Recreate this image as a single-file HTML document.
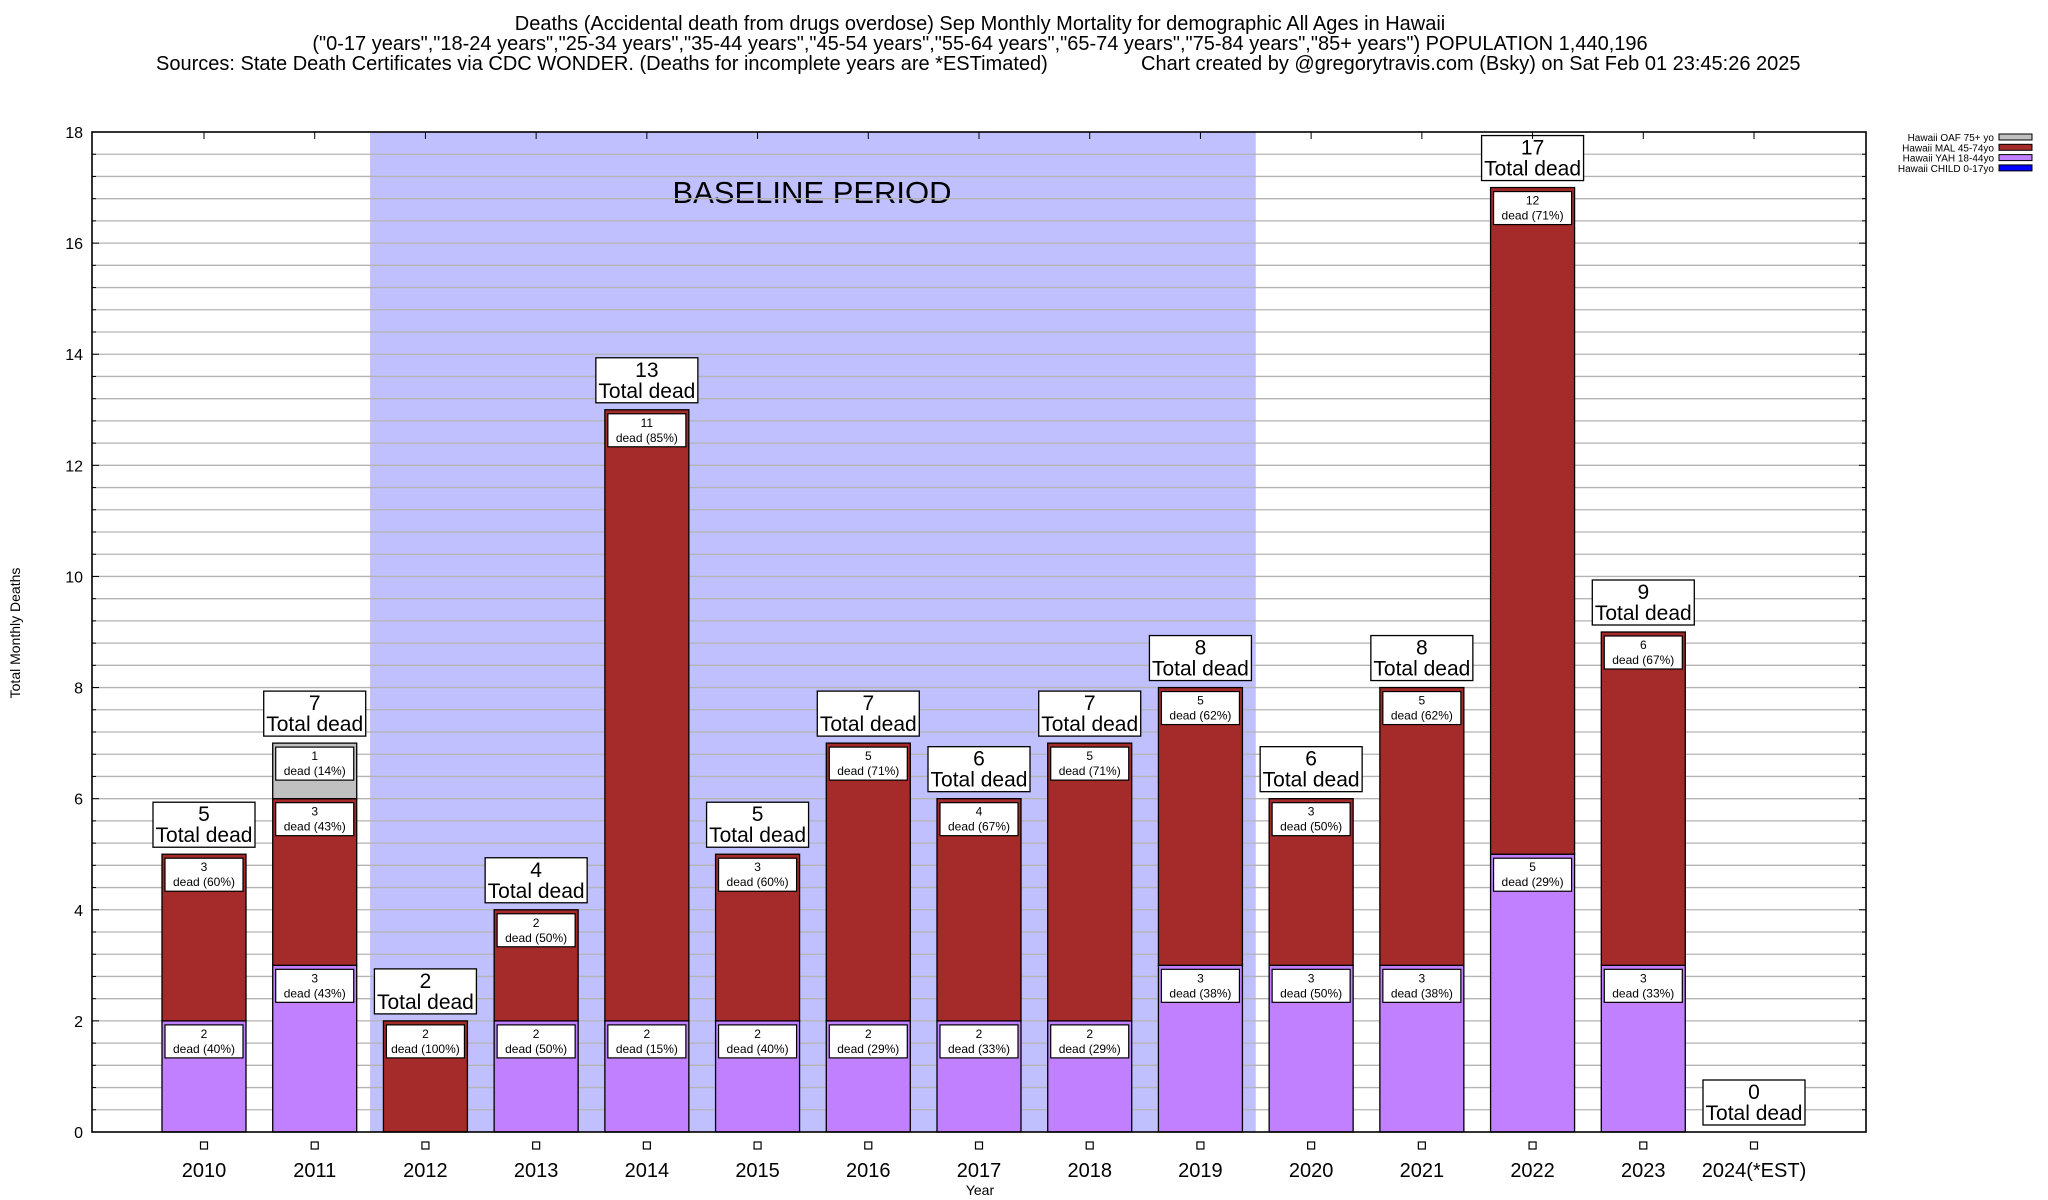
<!DOCTYPE html>
<html><head><meta charset="utf-8"><style>html,body{margin:0;padding:0;background:#fff}svg{display:block;font-family:"Liberation Sans",sans-serif}</style></head>
<body>
<svg id="chart" width="2048" height="1200" viewBox="0 0 2048 1200" xmlns="http://www.w3.org/2000/svg">
<g font-size="20" fill="#000">
<text x="980" y="30" text-anchor="middle">Deaths (Accidental death from drugs overdose) Sep Monthly Mortality for demographic All Ages in Hawaii</text>
<text x="980" y="50" text-anchor="middle">("0-17 years","18-24 years","25-34 years","35-44 years","45-54 years","55-64 years","65-74 years","75-84 years","85+ years") POPULATION 1,440,196</text>
<text x="156" y="70">Sources: State Death Certificates via CDC WONDER. (Deaths for incomplete years are *ESTimated)</text>
<text x="1141" y="70">Chart created by @gregorytravis.com (Bsky) on Sat Feb 01 23:45:26 2025</text>
</g>
<g id="plot"></g>
</svg>
<script>
const categories=["2010","2011","2012","2013","2014","2015","2016","2017","2018","2019","2020","2021","2022","2023","2024(*EST)"];
const child=[0,0,0,0,0,0,0,0,0,0,0,0,0,0,0];
const yah=[2,3,0,2,2,2,2,2,2,3,3,3,5,3,0];
const mal=[3,3,2,2,11,3,5,4,5,5,3,5,12,6,0];
const oaf=[0,1,0,0,0,0,0,0,0,0,0,0,0,0,0];
const yTicks=[0,2,4,6,8,10,12,14,16,18];
const baselineStart=2, baselineEnd=9;

const NS="http://www.w3.org/2000/svg";
const L=92,R=1866,T=132,B=1132,yMax=18;
const x0=204,dx=(1754-204)/14,bw=84;
const X=i=>x0+i*dx;
const Y=v=>B-(v/yMax)*(B-T);
const g=document.getElementById('plot');
function el(t,a,p){const e=document.createElementNS(NS,t);for(const k in a)e.setAttribute(k,a[k]);(p||g).appendChild(e);return e;}
function bround(x){const f=Math.floor(x),d=x-f;if(Math.abs(d-0.5)<1e-9)return f%2===0?f:f+1;return Math.round(x);}

let sh=el('rect',{x:(X(baselineStart-1)+X(baselineStart))/2,y:T,width:(X(baselineEnd)+X(baselineEnd+1))/2-(X(baselineStart-1)+X(baselineStart))/2,height:B-T,fill:'#c0c0ff'});


let bt=el('text',{x:812,y:203,'font-size':31,'text-anchor':'middle'});bt.textContent='BASELINE PERIOD';



for(let v=0.4;v<yMax-0.01;v+=0.4){
 const major=Math.abs(v/2-Math.round(v/2))<0.01;
 let ln=el('line',{x1:L,x2:R,y1:Y(v),y2:Y(v),stroke:'#b4b4b4','stroke-width':1.3});
 
 
 el('line',{x1:L,x2:L+(major?7:4),y1:Y(v),y2:Y(v),stroke:'#000'});
 el('line',{x1:R,x2:R-(major?7:4),y1:Y(v),y2:Y(v),stroke:'#000'});
}
yTicks.forEach(v=>{
 let t=el('text',{x:83,y:Y(v)+6,'font-size':16,'text-anchor':'end'});t.textContent=v;
 
 
});

function segLabel(i,top,val,tot){
 const bx=X(i)-39,by=Y(top)+4;
 el('rect',{x:bx,y:by,width:78,height:33,fill:'#fff',stroke:'#000','stroke-width':1.2});
 let t=el('text',{x:X(i),y:by+13,'font-size':12,'text-anchor':'middle'});t.textContent=val;
 
 
 let t2=el('text',{x:X(i),y:by+28,'font-size':12,'text-anchor':'middle'});t2.textContent='dead ('+bround(val/tot*100)+'%)';
 
 
}
const series=[[child,'#0000ff','child'],[yah,'#c080ff','yah'],[mal,'#a52a2a','mal'],[oaf,'#c0c0c0','oaf']];
categories.forEach((c,i)=>{
 const tot=child[i]+yah[i]+mal[i]+oaf[i];
 let base=0;
 series.forEach(([arr,col,nm])=>{
  const v=arr[i]; if(v<=0)return;
  let r=el('rect',{x:X(i)-bw/2,y:Y(base+v),width:bw,height:Y(base)-Y(base+v),fill:col,stroke:'#000','stroke-width':1.3});
  
  
  base+=v;
 });
 base=0;
 series.forEach(([arr])=>{const v=arr[i];if(v<=0)return;segLabel(i,base+v,v,tot);base+=v;});
 const by=Y(tot)-52;
 let tb=el('rect',{x:X(i)-51,y:by,width:102,height:45,fill:'#fff',stroke:'#000','stroke-width':1.3});
 
 
 let t1=el('text',{x:X(i),y:by+19,'font-size':21,'text-anchor':'middle'});t1.textContent=tot;
 
 
 let t2=el('text',{x:X(i),y:by+40,'font-size':21,'text-anchor':'middle'});t2.textContent='Total dead';
 
 
 el('line',{x1:X(i),x2:X(i),y1:T,y2:T+7,stroke:'#000'});
 let sq=el('rect',{x:X(i)-3.5,y:1142,width:7,height:7,fill:'#fff',stroke:'#000','stroke-width':1.2});
 
 
 let xl=el('text',{x:X(i),y:1177,'font-size':20,'text-anchor':'middle'});xl.textContent=c;
 
 
});
let fr=el('rect',{x:L,y:T,width:R-L,height:B-T,fill:'none',stroke:'#000','stroke-width':1.6});


let xt=el('text',{x:980,y:1195,'font-size':14,'text-anchor':'middle'});xt.textContent='Year';


let yt=el('text',{x:0,y:0,'font-size':14,'text-anchor':'middle',transform:'translate(20,633) rotate(-90)'});yt.textContent='Total Monthly Deaths';


const legNames=["Hawaii OAF 75+ yo","Hawaii MAL 45-74yo","Hawaii YAH 18-44yo","Hawaii CHILD 0-17yo"];
const legCols=['#c0c0c0','#a52a2a','#c080ff','#0000ff'];
legNames.forEach((n,k)=>{
 const y=137+k*10.3;
 let t=el('text',{x:1994,y:y+4,'font-size':10,'text-anchor':'end'});t.textContent=n;
 
 
 let s=el('rect',{x:1999,y:y-3,width:33,height:6,fill:legCols[k],stroke:'#000','stroke-width':1});
 
 
});
</script>
</body></html>
